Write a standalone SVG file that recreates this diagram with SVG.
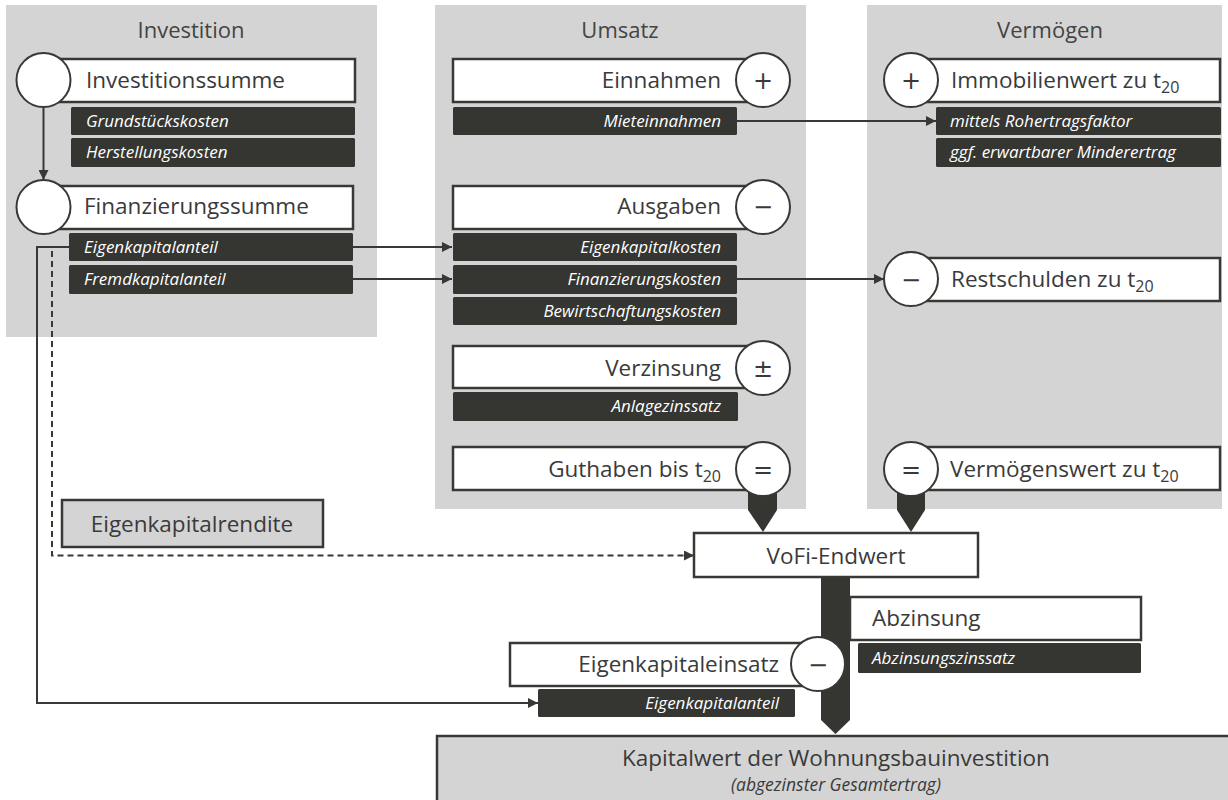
<svg xmlns="http://www.w3.org/2000/svg" width="1228" height="800" viewBox="0 0 1228 800">
<defs>
<style>
.panel{fill:#d4d4d4}
.box{fill:#fff;stroke:#383834;stroke-width:2.5}
.gbox{fill:#d4d4d4;stroke:#383834;stroke-width:2.5}
.dark{fill:#353531}
.circ{fill:#fff;stroke:#383834;stroke-width:2}
.t{font-family:"Open Sans",Lato,sans-serif;font-size:22.5px;fill:#3a3a3a;font-variant-ligatures:none}
.title{font-size:22px;text-anchor:middle;fill:#444}
.end{text-anchor:end}
.mid{text-anchor:middle}
.lbl{font-family:"Open Sans",Lato,sans-serif;font-style:italic;font-size:17px;fill:#fff}
.sym{font-family:"DejaVu Sans",sans-serif;font-size:24px;text-anchor:middle;fill:#3a3a3a}
.conn{stroke:#383834;stroke-width:2;fill:none}
.dash{stroke-dasharray:6 4}
.ptr{fill:#353531}
</style>
<marker id="arr" viewBox="0 0 10 10" refX="10" refY="5" markerWidth="10" markerHeight="10" markerUnits="userSpaceOnUse" orient="auto">
<path d="M0,0 L10,5 L0,10 z" fill="#383834"/>
</marker>
</defs>

<g id="panels">
<rect class="panel" x="6" y="5" width="371" height="332"/>
<rect class="panel" x="435" y="5" width="371" height="504"/>
<rect class="panel" x="867" y="5" width="355" height="504"/>
<text class="t title" x="191" y="38">Investition</text>
<text class="t title" x="620" y="38">Umsatz</text>
<text class="t title" x="1050" y="38">Vermögen</text>
</g>

<g id="pointers">
<path class="ptr" d="M748,480 H777 V510 L763,532 L748,510 Z"/>
<path class="ptr" d="M897,480 H925 V510 L911,532 L897,510 Z"/>
<path class="ptr" d="M821,577 H850 V720 L835.5,734 L821,720 Z"/>
</g>

<g id="connectors">
<line class="conn" x1="43.5" y1="107" x2="43.5" y2="180" marker-end="url(#arr)"/>
<line class="conn" x1="353" y1="247" x2="452" y2="247" marker-end="url(#arr)"/>
<line class="conn" x1="353" y1="279" x2="452" y2="279" marker-end="url(#arr)"/>
<line class="conn" x1="737" y1="121" x2="936" y2="121" marker-end="url(#arr)"/>
<line class="conn" x1="737" y1="279" x2="884" y2="279" marker-end="url(#arr)"/>
<polyline class="conn" points="69,247 37,247 37,703 538,703" marker-end="url(#arr)"/>
<polyline class="conn dash" points="52,251 52,555.5 694,555.5" marker-end="url(#arr)"/>
</g>

<g id="investitionssumme">
<rect class="box" x="44" y="59" width="311" height="43"/>
<circle class="circ" cx="43.5" cy="80" r="27"/>
<text class="t" x="86" y="88">Investitionssumme</text>
</g>
<g id="grundstueckskosten">
<rect class="dark" x="71" y="107" width="284" height="28" rx="1.5"/>
<text class="lbl" x="86" y="127">Grundstückskosten</text>
</g>
<g id="herstellungskosten">
<rect class="dark" x="71" y="138" width="284" height="29" rx="1.5"/>
<text class="lbl" x="86" y="158">Herstellungskosten</text>
</g>
<g id="finanzierungssumme">
<rect class="box" x="44" y="186" width="309" height="43"/>
<circle class="circ" cx="43.5" cy="207" r="27"/>
<text class="t" x="84" y="214">Finanzierungssumme</text>
</g>
<g id="eigenkapitalanteil">
<rect class="dark" x="69" y="233" width="284" height="28" rx="1.5"/>
<text class="lbl" x="84" y="253">Eigenkapitalanteil</text>
</g>
<g id="fremdkapitalanteil">
<rect class="dark" x="69" y="265" width="284" height="29" rx="1.5"/>
<text class="lbl" x="84" y="285">Fremdkapitalanteil</text>
</g>

<g id="einnahmen">
<rect class="box" x="453" y="59" width="310" height="43"/>
<circle class="circ" cx="763" cy="80" r="27"/>
<text class="t end" x="721" y="88">Einnahmen</text>
<text class="sym" x="763" y="89">+</text>
</g>
<g id="mieteinnahmen">
<rect class="dark" x="453" y="107" width="284" height="28" rx="1.5"/>
<text class="lbl end" x="721" y="127">Mieteinnahmen</text>
</g>
<g id="ausgaben">
<rect class="box" x="453" y="186" width="310" height="43"/>
<circle class="circ" cx="763" cy="207" r="27"/>
<text class="t end" x="721" y="214">Ausgaben</text>
<text class="sym" x="763" y="215">−</text>
</g>
<g id="eigenkapitalkosten">
<rect class="dark" x="453" y="233" width="284" height="28" rx="1.5"/>
<text class="lbl end" x="721" y="253">Eigenkapitalkosten</text>
</g>
<g id="finanzierungskosten">
<rect class="dark" x="453" y="265" width="284" height="29" rx="1.5"/>
<text class="lbl end" x="721" y="285">Finanzierungskosten</text>
</g>
<g id="bewirtschaftungskosten">
<rect class="dark" x="453" y="297" width="284" height="28" rx="1.5"/>
<text class="lbl end" x="721" y="317">Bewirtschaftungskosten</text>
</g>
<g id="verzinsung">
<rect class="box" x="453" y="346" width="310" height="42"/>
<circle class="circ" cx="763" cy="368" r="27"/>
<text class="t end" x="721" y="376">Verzinsung</text>
<text class="sym" x="763" y="377">±</text>
</g>
<g id="anlagezinssatz">
<rect class="dark" x="453" y="392" width="285" height="29" rx="1.5"/>
<text class="lbl end" x="721" y="412">Anlagezinssatz</text>
</g>
<g id="guthaben">
<rect class="box" x="453" y="447" width="310" height="43"/>
<circle class="circ" cx="763" cy="469" r="27"/>
<text class="t end" x="721" y="477">Guthaben bis t<tspan font-size="16" dy="5">20</tspan></text>
<text class="sym" x="763" y="478">=</text>
</g>

<g id="immobilienwert">
<rect class="box" x="911" y="59" width="309" height="43"/>
<circle class="circ" cx="911" cy="80" r="27"/>
<text class="sym" x="911" y="89">+</text>
<text class="t" x="951" y="88">Immobilienwert zu t<tspan font-size="16" dy="5">20</tspan></text>
</g>
<g id="rohertragsfaktor">
<rect class="dark" x="936" y="107" width="285" height="28" rx="1.5"/>
<text class="lbl" x="950" y="127">mittels Rohertragsfaktor</text>
</g>
<g id="minderertrag">
<rect class="dark" x="936" y="138" width="285" height="29" rx="1.5"/>
<text class="lbl" x="950" y="158">ggf. erwartbarer Minderertrag</text>
</g>
<g id="restschulden">
<rect class="box" x="911" y="258" width="309" height="43"/>
<circle class="circ" cx="911" cy="279" r="27"/>
<text class="sym" x="911" y="288">−</text>
<text class="t" x="951" y="287">Restschulden zu t<tspan font-size="16" dy="5">20</tspan></text>
</g>
<g id="vermoegenswert">
<rect class="box" x="911" y="447" width="309" height="43"/>
<circle class="circ" cx="911" cy="469" r="27"/>
<text class="sym" x="911" y="478">=</text>
<text class="t" x="950" y="477">Vermögenswert zu t<tspan font-size="16" dy="5">20</tspan></text>
</g>

<g id="eigenkapitalrendite">
<rect class="gbox" x="62" y="500" width="261" height="47"/>
<text class="t mid" x="192" y="532">Eigenkapitalrendite</text>
</g>

<g id="vofi-endwert">
<rect class="box" x="694" y="533" width="284" height="44"/>
<text class="t mid" x="836" y="564">VoFi-Endwert</text>
</g>

<g id="abzinsung">
<rect class="box" x="850" y="597" width="291" height="43"/>
<text class="t" x="872" y="626">Abzinsung</text>
</g>
<g id="abzinsungszinssatz">
<rect class="dark" x="858" y="643" width="283" height="30" rx="1.5"/>
<text class="lbl" x="872" y="664">Abzinsungszinssatz</text>
</g>

<g id="eigenkapitaleinsatz">
<rect class="box" x="510" y="643" width="308" height="43"/>
<circle class="circ" cx="818" cy="664" r="27"/>
<text class="t end" x="779" y="672">Eigenkapitaleinsatz</text>
<text class="sym" x="818" y="673">−</text>
</g>
<g id="eigenkapitalanteil2">
<rect class="dark" x="538" y="689" width="257" height="28" rx="1.5"/>
<text class="lbl end" x="779" y="709">Eigenkapitalanteil</text>
</g>

<g id="kapitalwert">
<rect class="gbox" x="437" y="736" width="800" height="80"/>
<text class="t mid" x="836" y="766" font-size="24.5">Kapitalwert der Wohnungsbauinvestition</text>
<text class="lbl mid" x="836" y="791" style="fill:#3a3a3a;font-size:17.5px">(abgezinster Gesamtertrag)</text>
</g>
</svg>
